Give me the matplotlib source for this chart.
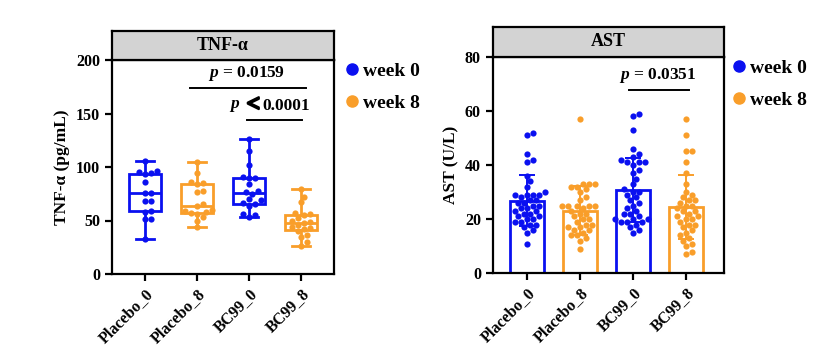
import numpy as np
import matplotlib
matplotlib.use("Agg")
import matplotlib.pyplot as plt
from matplotlib.lines import Line2D
import matplotlib.patheffects as pe

plt.rcParams['font.family'] = ['Liberation Serif', 'DejaVu Sans']
plt.rcParams['font.weight'] = 'bold'
plt.rcParams['mathtext.fontset'] = 'custom'
plt.rcParams['mathtext.it'] = 'Liberation Serif:italic:bold'
plt.rcParams['mathtext.rm'] = 'Liberation Serif:bold'

groups = ["Placebo_0", "Placebo_8", "BC99_0", "BC99_8"]
legend_labels = ["week 0", "week 8"]
BLUE = "#0a10f0"
ORANGE = "#f99e2a"
group_colors = [BLUE, ORANGE, BLUE, ORANGE]

# TNF-alpha (pg/mL)
tnf_placebo0 = [33, 51, 51, 58, 59, 68, 68, 76, 76, 86, 93, 94, 95, 96, 106]
tnf_placebo8 = [44, 50, 53, 56, 57, 58, 59, 60, 64, 65, 77, 78, 84, 85, 86, 94, 105]
tnf_bc99_0 = [53, 55, 56, 64, 65, 66, 69, 70, 75, 77, 78, 84, 90, 90, 91, 102, 115, 126]
tnf_bc99_8 = [26, 30, 35, 36, 40, 42, 43, 44, 46, 48, 49, 50, 52, 55, 56, 57, 67, 72, 79]

# AST (U/L)
ast_placebo0 = [52, 51, 44, 42, 41, 36, 34, 32, 30, 29, 29, 29, 29, 28, 27, 27, 26, 26, 25,
                25, 24, 24, 23, 23, 22, 22, 21, 21, 20, 20, 19, 19, 18, 18, 17, 16, 15, 11]
ast_placebo8 = [57, 33, 33, 33, 32, 32, 31, 30, 28, 27, 25, 25, 25, 25, 25, 24, 23, 22, 22,
                21, 20, 20, 19, 18, 18, 17, 17, 16, 16, 15, 14, 14, 13, 12, 9]
ast_bc99_0 = [59, 58, 53, 46, 44, 43, 42, 41, 41, 41, 40, 38, 37, 35, 33, 31, 30, 30, 29,
              28, 27, 26, 25, 24, 23, 22, 22, 21, 20, 20, 20, 19, 19, 19, 18, 17, 16, 15]
ast_bc99_8 = [57, 51, 45, 45, 41, 37, 33, 30, 29, 28, 27, 27, 26, 25, 25, 24, 23, 23, 22,
              21, 21, 20, 20, 19, 18, 18, 17, 16, 15, 14, 13, 12, 11, 10, 8, 7]

tnf_data = [tnf_placebo0, tnf_placebo8, tnf_bc99_0, tnf_bc99_8]
ast_data = [ast_placebo0, ast_placebo8, ast_bc99_0, ast_bc99_8]

W, H = 832, 356
fig = plt.figure(figsize=(W / 100, H / 100), dpi=100)


def px_axes(left, top, right, bottom):
    return [left / W, 1 - bottom / H, (right - left) / W, (bottom - top) / H]


def swarm(ax, xc, vals, d_px):
    """simple beeswarm layout in display space"""
    vals = np.asarray(vals, float)
    order = np.argsort(vals)
    placed = []
    xs = np.zeros(len(vals))
    x0d = ax.transData.transform((xc, 0))[0]
    for i in order:
        yd = ax.transData.transform((xc, vals[i]))[1]
        best = None
        for k in range(0, 40):
            for s in ([0] if k == 0 else [1, -1]):
                off = s * k * d_px * 0.5
                ok = all((off - px) ** 2 + (yd - py) ** 2 >= (d_px * 0.95) ** 2 for px, py in placed)
                if ok:
                    best = off
                    break
            if best is not None:
                break
        placed.append((best, yd))
        xs[i] = ax.transData.inverted().transform((x0d + best, yd))[0]
    return xs, vals


def style_axes(ax, ylim, yticks, xlim):
    ax.set_xlim(*xlim)
    ax.set_ylim(*ylim)
    ax.set_yticks(yticks)
    ax.set_xticks(range(len(groups)))
    ax.set_xticklabels(groups, rotation=45, ha='right', rotation_mode='anchor',
                       fontsize=11, fontweight='bold')
    for sp in ax.spines.values():
        sp.set_linewidth(1.6)
    ax.tick_params(width=1.6, length=5, labelsize=11.5)
    for lab in ax.get_yticklabels():
        lab.set_fontweight('bold')


def strip(rect, title):
    sax = fig.add_axes(rect)
    sax.set_facecolor('#d3d3d3')
    sax.set_xticks([])
    sax.set_yticks([])
    for sp in sax.spines.values():
        sp.set_linewidth(1.6)
    sax.text(0.5, 0.5, title, ha='center', va='center', fontsize=13, fontweight='bold',
             transform=sax.transAxes)


def ptext(ax, x, y, s):
    ax.text(x, y, s, ha='center', va='center', fontsize=12.5, fontweight='bold')


# ---------------- Left: TNF-alpha ----------------
ax1 = fig.add_axes(px_axes(111.7, 60, 334, 274))
style_axes(ax1, (0, 200), [0, 50, 100, 150, 200], (-0.64, 3.63))
strip(px_axes(111.7, 30.7, 334, 60), "TNF-α")
ax1.set_ylabel("TNF-α (pg/mL)", fontsize=12.5, fontweight='bold', labelpad=4)

for i, (vals, c) in enumerate(zip(tnf_data, group_colors)):
    bp = ax1.boxplot([vals], positions=[i], widths=0.62, whis=(0, 100), patch_artist=True,
                     showfliers=False, manage_ticks=False)
    for b in bp['boxes']:
        b.set(facecolor='white', edgecolor=c, linewidth=2.0)
    for key in ('whiskers', 'medians'):
        for ln in bp[key]:
            ln.set(color=c, linewidth=2.0)
    for ln in bp['caps']:
        ln.set(color=c, linewidth=2.0)
        ln.set_xdata([i - 0.17, i + 0.17])
    xs, ys = swarm(ax1, i, vals, 6.0)
    ax1.scatter(xs, ys, s=20, color=c, zorder=5, linewidths=0)

# significance
ax1.plot([0.86, 3.1], [174, 174], color='black', lw=1.4)
ptext(ax1, 1.95, 187.5, r"$p$ = 0.0159")
ax1.plot([1.96, 3.02], [144, 144], color='black', lw=1.4)
ax1.text(1.84, 157, r"$p$", ha='right', va='center', fontsize=12.5)
ax1.text(2.08, 157.5, "<", ha='center', va='center', fontsize=17, fontweight='bold',
         path_effects=[pe.withStroke(linewidth=1.6, foreground='black')])
ax1.text(2.25, 157, "0.0001", ha='left', va='center', fontsize=12.5, fontweight='bold')

# ---------------- Right: AST ----------------
ax2 = fig.add_axes(px_axes(492.7, 56.7, 724, 273.3))
style_axes(ax2, (0, 80), [0, 20, 40, 60, 80], (-0.648, 3.72))
strip(px_axes(492.7, 27.3, 724, 56.7), "AST")
ax2.set_ylabel("AST (U/L)", fontsize=12.5, fontweight='bold', labelpad=4)

for i, (vals, c) in enumerate(zip(ast_data, group_colors)):
    m = np.mean(vals)
    sd = np.std(vals, ddof=1)
    ax2.bar(i, m, width=0.65, facecolor='white', edgecolor=c, linewidth=2.0, zorder=2)
    ax2.errorbar(i, m, yerr=sd, color=c, capsize=6, elinewidth=1.4, capthick=1.4, zorder=3)
    xs, ys = swarm(ax2, i, vals, 6.0)
    ax2.scatter(xs, ys, s=20, color=c, zorder=5, linewidths=0)

ax2.plot([1.93, 3.06], [67.7, 67.7], color='black', lw=1.4)
ptext(ax2, 2.47, 73.2, r"$p$ = 0.0351")

# legends
handles = [Line2D([], [], marker='o', ls='', color=BLUE, markersize=8),
           Line2D([], [], marker='o', ls='', color=ORANGE, markersize=8)]
for (lx, ly) in ((342, 62), (729, 59)):
    fig.legend(handles, legend_labels, loc='upper left',
               bbox_to_anchor=(lx / W, 1 - ly / H), frameon=False,
               handletextpad=0.1, handlelength=1.0, labelspacing=0.75,
               borderaxespad=0, borderpad=0,
               prop={'family': 'Liberation Serif', 'weight': 'bold', 'size': 14})

fig.savefig("out.png", dpi=100)
